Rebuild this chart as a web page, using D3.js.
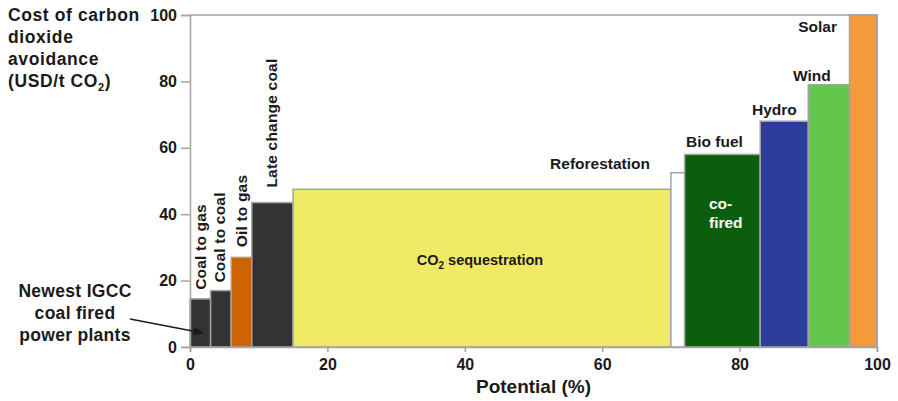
<!DOCTYPE html>
<html><head><meta charset="utf-8">
<script src="https://cdn.jsdelivr.net/npm/d3@7"></script>
<style>
body{margin:0;background:#fff;}
text{font-family:"Liberation Sans",Arial,Helvetica,sans-serif;font-weight:bold;fill:#1a1a1a;}
</style></head>
<body><svg id="c" width="898" height="401"></svg>
<script>
const categories = ["Coal to gas","Coal to coal","Oil to gas","Late change coal","CO2 sequestration","Reforestation","Bio fuel","Hydro","Wind","Solar"];
const potentialEnd = [3, 6, 9, 15, 70, 72, 83, 90, 96, 100];
const costs = [14.5, 17, 27, 43.5, 47.5, 52.5, 58, 68, 79, 100];
const colors = ["#333333","#333333","#cc6406","#333333","#f0e966","#ffffff","#0b5e0b","#2e3d99","#62c74c","#f59a3b"];
const xTicks = [0, 20, 40, 60, 80, 100];
const yTicks = [0, 20, 40, 60, 80, 100];

const svg = d3.select("#c");
const x = d3.scaleLinear().domain([0,100]).range([190,877]);
const y = d3.scaleLinear().domain([0,100]).range([347,15]);
const grey = "#a3a3a3";

// bars
const bars = categories.map((c,i)=>({c, x0: i===0?0:potentialEnd[i-1], x1: potentialEnd[i], v: costs[i], col: colors[i]}));
svg.append("g").selectAll("rect").data(bars).join("rect")
  .attr("x", d=>x(d.x0)).attr("width", d=>x(d.x1)-x(d.x0))
  .attr("y", d=>y(d.v)).attr("height", d=>y(0)-y(d.v))
  .attr("fill", d=>d.col).attr("stroke", grey).attr("stroke-width", 1.5);

// frame top & right
svg.append("path").attr("d", `M${x(0)},${y(100)}H${x(100)}V${y(0)}`)
  .attr("fill","none").attr("stroke",grey).attr("stroke-width",1.5);

// axes
const ya = svg.append("g").attr("transform",`translate(${x(0)},0)`)
  .call(d3.axisLeft(y).tickValues(yTicks).tickSize(9).tickPadding(4));
const xa = svg.append("g").attr("transform",`translate(0,${y(0)})`)
  .call(d3.axisBottom(x).tickValues(xTicks).tickSize(5).tickPadding(7));
[ya,xa].forEach(a=>{
  a.selectAll("path,line").attr("stroke",grey).attr("stroke-width",1.5);
  a.selectAll("text").style("font-family",'"Liberation Sans",Arial,sans-serif').style("font-weight","bold").attr("fill","#1a1a1a").style("font-size","16px");
});

// x title
svg.append("text").attr("x", (x(0)+x(100))/2).attr("y", 393).attr("text-anchor","middle")
  .style("font-size","19px").text("Potential (%)");

// y title
const yt = svg.append("text").attr("x",8).attr("y",21).style("font-size","17.5px").style("letter-spacing","0.6px");
["Cost of carbon","dioxide","avoidance"].forEach((s,i)=>yt.append("tspan").attr("x",8).attr("y",21+22*i).text(s));
yt.append("tspan").attr("x",8).attr("y",87).text("(USD/t CO");
yt.append("tspan").attr("dy",4).style("font-size","11px").text("2");
yt.append("tspan").attr("dy",-4).text(")");

// rotated labels
const rot = [
  {i:0, cx:200, dy:9},
  {i:1, cx:219, dy:8},
  {i:2, cx:241, dy:10},
  {i:3, cx:271, dy:15}
];
rot.forEach(r=>{
  const b = bars[r.i];
  svg.append("text").attr("transform",`translate(${r.cx+5.5},${y(b.v)-r.dy}) rotate(-90)`)
    .style("font-size","15.5px").style("letter-spacing","0.2px").text(b.c);
});

// labels above bars
const tops = [
  {i:5, lx:650, anchor:"end", off:-4},
  {i:6, lx:686, anchor:"start", off:-7},
  {i:7, lx:752, anchor:"start", off:-6},
  {i:8, lx:793, anchor:"start", off:-4},
];
tops.forEach(t=>{
  const b = bars[t.i];
  svg.append("text").attr("x",t.lx).attr("y",y(b.v)+t.off).attr("text-anchor",t.anchor)
    .style("font-size","15.5px").text(b.c);
});
svg.append("text").attr("x",837).attr("y",32).attr("text-anchor","end").style("font-size","15.5px").text(categories[9]);

// co-fired
const cf = svg.append("text").style("font-size","15.5px").style("fill","#fff");
cf.append("tspan").attr("x",709).attr("y",209).text("co-");
cf.append("tspan").attr("x",709).attr("y",228).text("fired");

// CO2 sequestration
const cs = svg.append("text").attr("x",480).attr("y",265).attr("text-anchor","middle").style("font-size","14.5px");
cs.append("tspan").text("CO");
cs.append("tspan").attr("dy",4).style("font-size","10px").text("2");
cs.append("tspan").attr("dy",-4).text(" sequestration");

// Newest IGCC annotation
const ng = svg.append("text").attr("text-anchor","middle").style("font-size","17.5px").style("letter-spacing","0.3px");
["Newest IGCC","coal fired","power plants"].forEach((s,i)=>ng.append("tspan").attr("x",75).attr("y",297+22*i).text(s));
svg.append("defs").append("marker").attr("id","ah").attr("viewBox","0 0 10 10").attr("refX",9).attr("refY",5)
  .attr("markerWidth",8).attr("markerHeight",8).attr("orient","auto")
  .append("path").attr("d","M0,1L10,5L0,9Z").attr("fill","#1a1a1a");
svg.append("line").attr("x1",130).attr("y1",319).attr("x2",203).attr("y2",333)
  .attr("stroke","#1a1a1a").attr("stroke-width",1.3).attr("marker-end","url(#ah)");
</script></body></html>
